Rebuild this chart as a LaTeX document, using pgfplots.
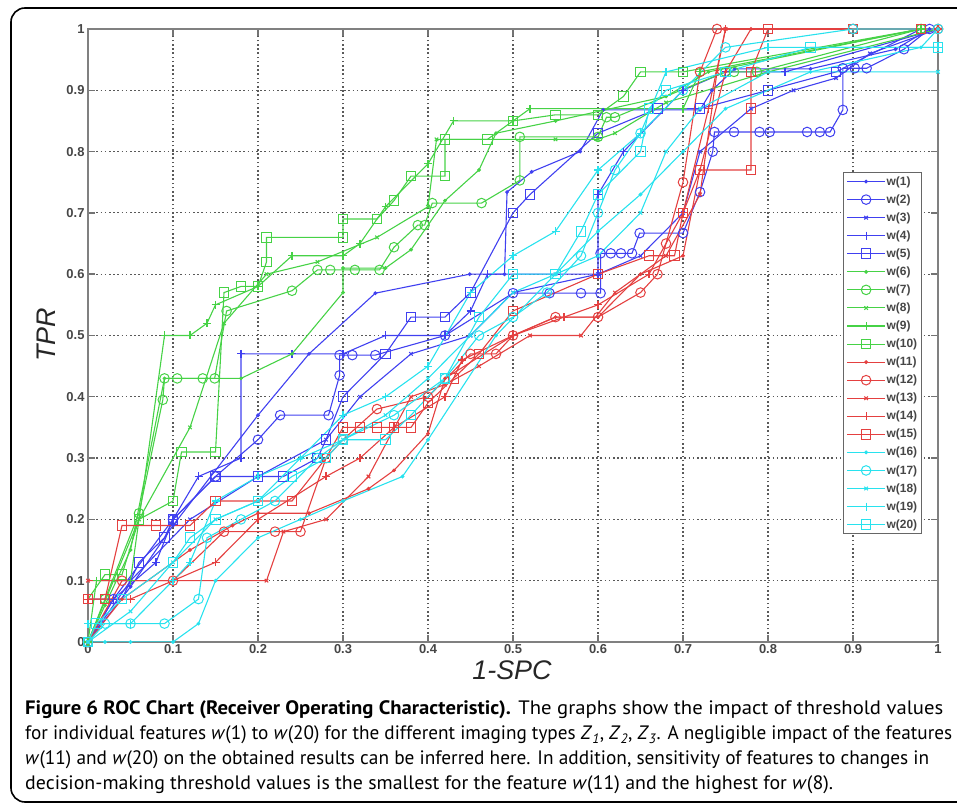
\documentclass[border=0pt]{standalone}
\usepackage{pgfplots}
\pgfplotsset{compat=1.18}
\usepackage{fontspec}
\usepackage{graphicx}
\setmainfont{Liberation Sans}
\newfontfamily\capfont{PT Sans}
\definecolor{cb}{RGB}{64,64,240}
\definecolor{cg}{RGB}{70,210,70}
\definecolor{cr}{RGB}{228,64,64}
\definecolor{cc}{RGB}{40,226,238}
\definecolor{tk}{RGB}{70,70,70}
\pgfplotsset{
  s1/.style={line width=1.1bp,mark=*,mark size=1.3bp},
  s2/.style={line width=1.1bp,mark=o,mark size=4.8bp,mark options={line width=1bp}},
  s3/.style={line width=1.1bp,mark=x,mark size=2.5bp},
  s4/.style={line width=1.1bp,mark=+,mark size=4bp},
  s5/.style={line width=1.1bp,mark=square,mark size=4.8bp,mark options={line width=1bp}},
}
\begin{document}
\begin{tikzpicture}[x=1bp,y=1bp]
\useasboundingbox (0,0) rectangle (957,805);
\draw[line width=1.6bp,rounded corners=14bp] (11,3) rectangle (990,797);
\begin{axis}[
  at={(88bp,163bp)}, anchor=south west,
  scale only axis, width=850bp, height=613bp,
  xmin=0, xmax=1, ymin=0, ymax=1,
  xtick={0,0.1,...,1}, ytick={0,0.1,...,1},
  grid=major,
  major grid style={black!65,line width=1.2bp,dash pattern=on 1.6bp off 2.6bp},
  axis line style={black!50,line width=2bp},
  tick style={black!55,line width=1.4bp},
  major tick length=7bp,
  tick align=inside,
  /pgf/number format/assume math mode=true,
  ticklabel style={font=\bfseries\fontsize{13}{13}\selectfont,text=tk},
  xticklabel style={yshift=1bp},
  legend style={at={(0.981,0.767)},anchor=north east,
    font=\bfseries\fontsize{12}{12}\selectfont,text=tk,
    draw=black!60,line width=1.3bp,row sep=5.9bp,inner sep=3bp,
    nodes={inner sep=1bp}},
  legend cell align=left,
  legend image code/.code={\draw[mark repeat=2,mark phase=2] plot coordinates {(0bp,0bp) (19bp,0bp) (38bp,0bp)};},
]
% w(1)
\addplot[cb,s1] coordinates {(0,0)(0.05,0.09)(0.1,0.19)(0.2,0.37)(0.26,0.47)(0.338,0.569)(0.449,0.6)(0.49,0.6)(0.493,0.734)(0.522,0.767)(0.579,0.8)(0.606,0.868)(0.72,0.868)(0.734,0.9)(0.761,0.935)(0.85,0.935)(0.95,0.967)(0.99,1)};
% w(2)
\addplot[cb,s2] coordinates {(0,0)(0.03,0.07)(0.1,0.2)(0.15,0.27)(0.2,0.33)(0.226,0.37)(0.283,0.37)(0.296,0.435)(0.296,0.468)(0.311,0.468)(0.338,0.468)(0.42,0.5)(0.5,0.569)(0.543,0.569)(0.58,0.569)(0.603,0.569)(0.603,0.634)(0.615,0.634)(0.627,0.634)(0.64,0.634)(0.649,0.667)(0.7,0.667)(0.72,0.734)(0.735,0.8)(0.737,0.832)(0.76,0.832)(0.79,0.832)(0.802,0.832)(0.846,0.832)(0.861,0.832)(0.873,0.832)(0.888,0.868)(0.888,0.936)(0.902,0.936)(0.916,0.936)(0.96,0.967)(0.99,1)};
% w(3)
\addplot[cb,s3] coordinates {(0,0)(0.05,0.1)(0.12,0.2)(0.2,0.27)(0.28,0.33)(0.32,0.4)(0.38,0.47)(0.45,0.5)(0.5,0.57)(0.6,0.6)(0.65,0.63)(0.7,0.7)(0.72,0.8)(0.78,0.87)(0.83,0.9)(0.88,0.92)(0.92,0.96)(1,1)};
% w(4)
\addplot[cb,s4] coordinates {(0,0)(0.03,0.07)(0.08,0.13)(0.1,0.2)(0.13,0.27)(0.18,0.3)(0.18,0.47)(0.24,0.47)(0.3,0.47)(0.35,0.5)(0.42,0.5)(0.45,0.54)(0.47,0.6)(0.6,0.6)(0.6,0.73)(0.63,0.8)(0.7,0.9)(0.75,0.93)(0.82,0.93)(1,1)};
% w(5)
\addplot[cb,s5] coordinates {(0,0.07)(0.04,0.07)(0.06,0.13)(0.09,0.17)(0.1,0.2)(0.15,0.27)(0.2,0.27)(0.23,0.27)(0.27,0.3)(0.28,0.33)(0.3,0.4)(0.35,0.47)(0.38,0.53)(0.42,0.53)(0.45,0.57)(0.5,0.7)(0.52,0.73)(0.6,0.83)(0.67,0.87)(0.72,0.87)(0.8,0.9)(0.88,0.93)(0.98,1)};
% w(6)
\addplot[cg,s1] coordinates {(0,0)(0.02,0.06)(0.05,0.15)(0.09,0.43)(0.18,0.43)(0.24,0.47)(0.3,0.57)(0.3,0.61)(0.35,0.61)(0.38,0.64)(0.42,0.72)(0.46,0.77)(0.48,0.83)(0.55,0.85)(0.68,0.89)(0.73,0.93)(0.98,1)};
% w(7)
\addplot[cg,s2] coordinates {(0,0)(0.02,0.07)(0.06,0.21)(0.088,0.395)(0.09,0.43)(0.105,0.43)(0.135,0.43)(0.149,0.43)(0.163,0.54)(0.24,0.573)(0.27,0.607)(0.285,0.607)(0.314,0.607)(0.343,0.607)(0.36,0.644)(0.388,0.68)(0.396,0.68)(0.405,0.716)(0.463,0.716)(0.508,0.753)(0.508,0.824)(0.6,0.824)(0.61,0.856)(0.62,0.856)(0.75,0.93)(0.76,0.93)(0.787,0.93)(0.98,1)};
% w(8)
\addplot[cg,s3] coordinates {(0,0)(0.03,0.1)(0.06,0.2)(0.12,0.35)(0.16,0.52)(0.21,0.6)(0.27,0.62)(0.34,0.66)(0.4,0.71)(0.41,0.82)(0.55,0.82)(0.6,0.82)(0.62,0.83)(0.68,0.88)(0.8,0.93)(1,1)};
% w(9)
\addplot[cg,s4] coordinates {(0,0)(0.01,0.1)(0.05,0.1)(0.09,0.5)(0.12,0.5)(0.14,0.52)(0.15,0.55)(0.2,0.58)(0.24,0.63)(0.3,0.63)(0.32,0.65)(0.35,0.71)(0.4,0.78)(0.43,0.85)(0.5,0.85)(0.52,0.87)(0.7,0.87)(0.72,0.93)(0.98,1)};
% w(10)
\addplot[cg,s5] coordinates {(0,0.07)(0.02,0.11)(0.04,0.11)(0.06,0.2)(0.1,0.23)(0.11,0.31)(0.15,0.31)(0.16,0.57)(0.18,0.58)(0.2,0.58)(0.21,0.62)(0.21,0.66)(0.3,0.66)(0.3,0.69)(0.34,0.69)(0.36,0.72)(0.38,0.76)(0.42,0.76)(0.42,0.82)(0.47,0.82)(0.5,0.85)(0.55,0.86)(0.6,0.86)(0.63,0.89)(0.65,0.93)(0.7,0.93)(0.98,1)};
% w(11)
\addplot[cr,s1] coordinates {(0,0)(0.04,0.07)(0.12,0.15)(0.17,0.19)(0.2,0.21)(0.26,0.21)(0.33,0.25)(0.36,0.28)(0.4,0.34)(0.42,0.43)(0.5,0.5)(0.55,0.53)(0.6,0.53)(0.65,0.6)(0.7,0.63)(0.72,0.77)(0.75,0.93)(0.78,1)(1,1)};
% w(12)
\addplot[cr,s2] coordinates {(0,0)(0.04,0.1)(0.1,0.1)(0.16,0.18)(0.22,0.18)(0.25,0.18)(0.28,0.3)(0.3,0.33)(0.34,0.38)(0.4,0.4)(0.45,0.47)(0.48,0.47)(0.5,0.5)(0.55,0.53)(0.6,0.53)(0.65,0.57)(0.67,0.6)(0.68,0.65)(0.7,0.75)(0.72,0.93)(0.74,1)(0.9,1)(1,1)};
% w(13)
\addplot[cr,s3] coordinates {(0,0.1)(0.1,0.1)(0.21,0.1)(0.23,0.18)(0.28,0.2)(0.33,0.27)(0.38,0.4)(0.42,0.42)(0.46,0.45)(0.52,0.5)(0.58,0.5)(0.62,0.57)(0.68,0.63)(0.72,0.73)(0.74,0.93)(0.75,1)(1,1)};
% w(14)
\addplot[cr,s4] coordinates {(0,0.07)(0.05,0.07)(0.1,0.1)(0.15,0.13)(0.2,0.2)(0.28,0.27)(0.32,0.3)(0.36,0.35)(0.42,0.4)(0.44,0.46)(0.5,0.5)(0.56,0.53)(0.6,0.55)(0.66,0.6)(0.7,0.7)(0.73,0.87)(0.75,1)(1,1)};
% w(15)
\addplot[cr,s5] coordinates {(0,0.07)(0.02,0.07)(0.04,0.19)(0.08,0.19)(0.12,0.19)(0.15,0.23)(0.2,0.23)(0.24,0.23)(0.28,0.3)(0.3,0.35)(0.32,0.35)(0.34,0.35)(0.36,0.35)(0.38,0.35)(0.4,0.39)(0.43,0.43)(0.46,0.47)(0.5,0.54)(0.6,0.6)(0.66,0.63)(0.69,0.63)(0.7,0.7)(0.72,0.77)(0.78,0.77)(0.78,0.87)(0.78,0.93)(0.8,1)(0.9,1)(0.98,1)};
% w(16)
\addplot[cc,s1] coordinates {(0,0)(0.02,0)(0.05,0)(0.1,0)(0.13,0.03)(0.15,0.1)(0.2,0.17)(0.25,0.2)(0.3,0.23)(0.37,0.27)(0.4,0.33)(0.48,0.5)(0.55,0.6)(0.6,0.67)(0.65,0.73)(0.7,0.8)(0.75,0.87)(0.85,0.93)(0.98,0.97)(1,1)};
% w(17)
\addplot[cc,s2] coordinates {(0,0)(0.02,0.03)(0.05,0.03)(0.09,0.03)(0.13,0.07)(0.14,0.17)(0.18,0.2)(0.22,0.23)(0.27,0.3)(0.3,0.33)(0.36,0.37)(0.42,0.43)(0.46,0.5)(0.5,0.53)(0.54,0.57)(0.58,0.63)(0.6,0.7)(0.62,0.77)(0.65,0.83)(0.7,0.9)(0.75,0.97)(0.9,1)(1,1)};
% w(18)
\addplot[cc,s3] coordinates {(0,0)(0.05,0.05)(0.1,0.13)(0.15,0.2)(0.2,0.23)(0.25,0.3)(0.3,0.33)(0.35,0.37)(0.4,0.43)(0.45,0.5)(0.5,0.57)(0.55,0.6)(0.6,0.63)(0.65,0.7)(0.68,0.8)(0.72,0.87)(0.8,0.93)(1,0.93)};
% w(19)
\addplot[cc,s4] coordinates {(0,0.03)(0.05,0.03)(0.1,0.1)(0.12,0.13)(0.15,0.23)(0.2,0.27)(0.25,0.3)(0.3,0.37)(0.35,0.4)(0.4,0.45)(0.45,0.57)(0.5,0.63)(0.55,0.67)(0.6,0.77)(0.65,0.83)(0.68,0.93)(0.8,0.97)(1,0.97)};
% w(20)
\addplot[cc,s5] coordinates {(0,0)(0.01,0.03)(0.04,0.07)(0.1,0.13)(0.12,0.17)(0.15,0.2)(0.2,0.23)(0.24,0.27)(0.28,0.3)(0.3,0.33)(0.35,0.33)(0.38,0.37)(0.42,0.43)(0.46,0.53)(0.5,0.6)(0.55,0.6)(0.58,0.67)(0.6,0.73)(0.65,0.8)(0.66,0.87)(0.68,0.9)(0.75,0.93)(0.85,0.97)(1,0.97)};
\legend{w(1),w(2),w(3),w(4),w(5),w(6),w(7),w(8),w(9),w(10),w(11),w(12),w(13),w(14),w(15),w(16),w(17),w(18),w(19),w(20)}
\end{axis}
% axis titles
\node[inner sep=0pt,font=\itshape\fontsize{27}{27}\selectfont,text=black!85] at (512,135) {1-SPC};
\node[inner sep=0pt,font=\itshape\fontsize{27}{27}\selectfont,text=black!85,rotate=90] at (46,470) {TPR};
% caption
\begin{scope}[every node/.style={anchor=base west,inner sep=0pt,font=\capfont\fontsize{19.5}{19.5}\selectfont}]
\node at (25,90) {\resizebox{918bp}{\height}{\textbf{Figure 6 ROC Chart (Receiver Operating Characteristic).} The graphs show the impact of threshold values}};
\node at (25,65) {\resizebox{927bp}{\height}{for individual features \textit{w}(1) to \textit{w}(20) for the different imaging types \textit{Z}\textsubscript{\textit{1}}, \textit{Z}\textsubscript{\textit{2}}, \textit{Z}\textsubscript{\textit{3}}. A negligible impact of the features}};
\node at (25,40) {\resizebox{904bp}{\height}{\textit{w}(11) and \textit{w}(20) on the obtained results can be inferred here. In addition, sensitivity of features to changes in}};
\node at (25,15) {\resizebox{808bp}{\height}{decision-making threshold values is the smallest for the feature \textit{w}(11) and the highest for \textit{w}(8).}};
\end{scope}
\end{tikzpicture}
\end{document}
